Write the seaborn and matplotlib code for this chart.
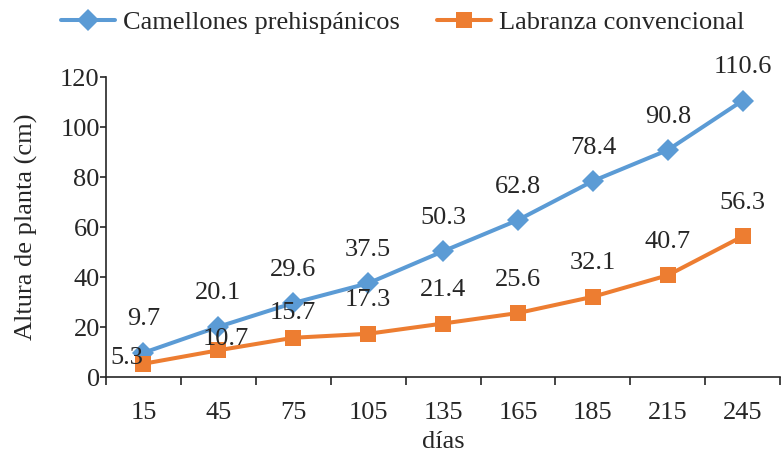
import pandas as pd
import matplotlib.pyplot as plt
import seaborn as sns

# datos
dias = ["15", "45", "75", "105", "135", "165", "185", "215", "245"]
camellones = [9.7, 20.1, 29.6, 37.5, 50.3, 62.8, 78.4, 90.8, 110.6]
labranza = [5.3, 10.7, 15.7, 17.3, 21.4, 25.6, 32.1, 40.7, 56.3]
series = ["Camellones prehispánicos", "Labranza convencional"]

sns.set_style("ticks")
plt.rcParams["font.family"] = ["Liberation Serif", "DejaVu Serif"]
FS = 19

pos = list(range(len(dias)))
df = pd.DataFrame({"pos": pos, "cam": camellones, "lab": labranza})

fig = plt.figure(figsize=(7.83, 4.59), dpi=100)
ax = fig.add_axes([0.1354, 0.1786, 0.861, 0.6536])

sns.lineplot(data=df, x="pos", y="cam", color="#5B9BD5", marker="D",
             markersize=11, markeredgewidth=0, linewidth=2.9,
             label=series[0], ax=ax)
sns.lineplot(data=df, x="pos", y="lab", color="#ED7D31", marker="s",
             markersize=12, markeredgewidth=0, linewidth=2.9,
             label=series[1], ax=ax)

# etiquetas de datos (desplazamiento en puntos)
for i, v in enumerate(camellones):
    ax.annotate(f"{v}", (i, v), xytext=(0, 24), textcoords="offset points",
                ha="center", va="center", fontsize=FS)
ajustes = {0: (-12, 4), 1: (5, 8), 2: (0, 18)}
for i, v in enumerate(labranza):
    dx, dy = ajustes.get(i, (0, 24))
    ax.annotate(f"{v}", (i, v), xytext=(dx, dy), textcoords="offset points",
                ha="center", va="center", fontsize=FS)

ax.set_xlim(-0.5, len(dias) - 0.5)
ax.set_ylim(0, 120)
ax.set_yticks(range(0, 121, 20))
ax.set_xticks([p - 0.5 for p in range(len(dias) + 1)])
ax.set_xticklabels([])
ax.set_xticks(pos, minor=True)
ax.set_xticklabels(dias, minor=True)
ax.tick_params(axis="x", which="major", length=6, width=1.2, direction="out")
ax.tick_params(axis="x", which="minor", length=0, pad=18, labelsize=FS)
ax.tick_params(axis="y", length=4, width=1.2, pad=0.5, labelsize=FS)
for s in ["top", "right"]:
    ax.spines[s].set_visible(False)
for s in ["left", "bottom"]:
    ax.spines[s].set_linewidth(1.2)

ax.set_xlabel("días", fontsize=FS, labelpad=5)
ax.set_ylabel("Altura de planta (cm)", fontsize=FS, labelpad=16)

ax.legend(loc="center", bbox_to_anchor=(0.44, 1.183), ncol=2,
          frameon=False, fontsize=FS, handlelength=2.05,
          handletextpad=0.3, columnspacing=1.4)

fig.savefig("out.png", dpi=100)
